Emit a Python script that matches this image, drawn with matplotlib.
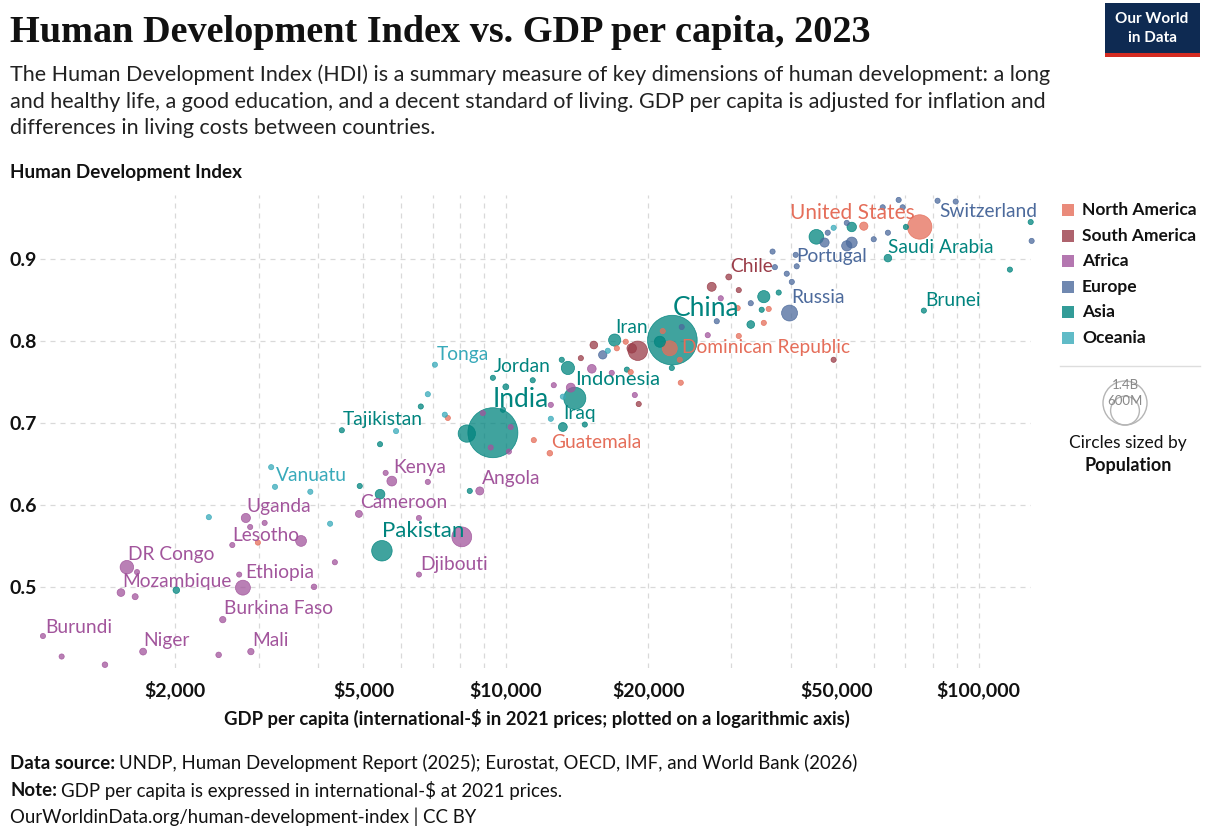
import matplotlib
matplotlib.use('Agg')
import matplotlib.pyplot as plt
from matplotlib.patches import Rectangle, Ellipse
from matplotlib.ticker import FixedLocator, NullFormatter
import numpy as np

W, H = 1205, 838

# ---- values (GDP per capita, HDI, population in millions) ----
africa_gdp = [1050, 1150, 1420, 1710, 2470, 2890, 2520, 1535, 1645, 1580,
              1660, 2780, 2730, 3930, 2820, 3090, 2880, 2640, 3690, 4350,
              4890, 5570, 5740, 6840, 6550, 8810, 6550, 8070, 8940, 10240,
              9290, 10150, 12450, 12630, 13720, 15200, 16750, 18740, 26730, 28480]
africa_hdi = [0.440, 0.415, 0.405, 0.421, 0.417, 0.421, 0.460, 0.493, 0.488, 0.524,
              0.518, 0.499, 0.515, 0.500, 0.584, 0.578, 0.573, 0.551, 0.556, 0.530,
              0.589, 0.639, 0.629, 0.628, 0.584, 0.617, 0.515, 0.561, 0.712, 0.695,
              0.670, 0.665, 0.722, 0.746, 0.743, 0.766, 0.761, 0.734, 0.807, 0.852]
africa_pop = [13, 6, 18, 27, 18, 23, 23, 34, 21, 105,
              8, 127, 8, 18, 48, 14, 3, 2.3, 67, 10,
              28, 6, 55, 10, 8, 37, 1.1, 225, 4, 4,
              5, 5, 5, 5, 46, 43, 5, 8, 3, 0.1]
africa_names = ['Burundi', '', '', 'Niger', '', 'Mali', 'Burkina Faso', 'Mozambique', '', 'DR Congo',
                '', 'Ethiopia', '', '', 'Uganda', '', '', 'Lesotho', '', '',
                'Cameroon', '', 'Kenya', '', '', 'Angola', 'Djibouti', '', '', '',
                '', '', '', '', '', '', '', '', '', '']

asia_gdp = [2010, 4500, 4910, 5420, 5420, 5470, 6610, 8390, 8270, 9390,
            9860, 9390, 10000, 11400, 13990, 13200, 14690, 13130, 13530, 18030,
            16990, 22500, 21170, 22440, 34760, 35120, 37760, 32960, 45370, 53890,
            70150, 64270, 76560, 116400, 128800]
asia_hdi = [0.496, 0.691, 0.623, 0.674, 0.613, 0.544, 0.720, 0.617, 0.687, 0.688,
            0.716, 0.755, 0.744, 0.752, 0.730, 0.695, 0.698, 0.777, 0.767, 0.765,
            0.801, 0.801, 0.799, 0.767, 0.838, 0.854, 0.859, 0.820, 0.927, 0.939,
            0.939, 0.901, 0.837, 0.887, 0.945]
asia_pop = [25, 10, 6, 8, 54, 240, 7, 8, 172, 1430,
            7, 11, 20, 6, 280, 45, 5, 6, 100, 6,
            85, 1410, 70, 8, 6, 85, 5, 34, 124, 52,
            10, 33, 0.45, 3, 6]
asia_names = ['', 'Tajikistan', '', '', '', 'Pakistan', '', '', '', 'India',
              '', 'Jordan', '', '', 'Indonesia', 'Iraq', '', '', '', '',
              'Iran', 'China', '', '', '', '', '', '', '', '',
              '', 'Saudi Arabia', 'Brunei', '', '']

europe_gdp = [16030, 23550, 27930, 32960, 39810, 37070, 39270, 40250, 41220, 36650,
              41020, 47940, 47210, 52600, 53890, 52600, 59980, 64270, 62660, 67720,
              69050, 81850, 89400, 129400]
europe_hdi = [0.783, 0.817, 0.824, 0.846, 0.834, 0.890, 0.882, 0.872, 0.891, 0.909,
              0.905, 0.932, 0.920, 0.916, 0.920, 0.944, 0.924, 0.932, 0.963, 0.972,
              0.963, 0.971, 0.970, 0.922]
europe_pop = [40, 4, 6, 5, 145, 5, 5, 4, 10, 5,
              5, 6, 48, 60, 68, 6, 5, 5, 10, 5,
              6, 9, 5, 0.7]
europe_names = ['', '', '', '', 'Russia', '', '', '', 'Portugal', '',
                '', '', '', '', '', '', '', '', '', '',
                '', 'Switzerland', '', '']

samerica_gdp = [14410, 15350, 18460, 19010, 19100, 27250, 31090, 29610, 49340]
samerica_hdi = [0.779, 0.795, 0.791, 0.788, 0.723, 0.866, 0.862, 0.878, 0.777]
samerica_pop = [7, 34, 52, 215, 7, 46, 3.4, 20, 0.8]
samerica_names = ['', '', '', '', '', '', '', 'Chile', '']

namerica_gdp = [2990, 7540, 11460, 12390, 17930, 17170, 18370, 21470, 22220, 23330,
                23440, 31090, 35120, 30930, 35970, 57150, 75030]
namerica_hdi = [0.554, 0.706, 0.679, 0.663, 0.799, 0.791, 0.762, 0.812, 0.791, 0.777,
                0.749, 0.806, 0.822, 0.840, 0.839, 0.940, 0.939]
namerica_pop = [11, 3, 10, 18, 5, 3, 6, 3, 128, 11,
                5, 4, 4, 4, 3, 39, 340]
namerica_names = ['', '', '', 'Guatemala', '', '', '', '', '', 'Dominican Republic',
                  '', '', '', '', '', '', 'United States']

oceania_gdp = [2355, 3190, 3250, 3860, 4250, 5860, 7080, 6840, 7430, 12450, 13200, 16430, 49340]
oceania_hdi = [0.585, 0.646, 0.622, 0.616, 0.577, 0.690, 0.771, 0.735, 0.710, 0.705, 0.732, 0.788, 0.938]
oceania_pop = [5, 3, 0.3, 1, 10, 1, 0.1, 0.2, 0.9, 0.9, 0.2, 0.9, 5]
oceania_names = ['', '', 'Vanuatu', '', '', '', 'Tonga', '', '', '', '', '', '']

regions = ['North America', 'South America', 'Africa', 'Europe', 'Asia', 'Oceania']
x_ticks = [2000, 5000, 10000, 20000, 50000, 100000]
x_tick_labels = ['$2,000', '$5,000', '$10,000', '$20,000', '$50,000', '$100,000']
y_ticks = [0.5, 0.6, 0.7, 0.8, 0.9]

# ---- styling ----
region_colors = {
    'North America': '#E56E5A',
    'South America': '#9A3C48',
    'Africa': '#A2559C',
    'Europe': '#4C6A9C',
    'Asia': '#00847E',
    'Oceania': '#38AABA',
}
LS = 13.8  # normal label size
# label offset from its point in pixels (dx, dy), alignment, font size
label_style = {
    'Burundi': (2, -9, 'left', LS), 'Niger': (0, -11, 'left', LS),
    'Mali': (1, -11, 'left', LS), 'Burkina Faso': (1, -11, 'left', LS),
    'Mozambique': (1, -11, 'left', LS), 'DR Congo': (1, -13, 'left', LS),
    'Ethiopia': (2, -15, 'left', LS), 'Lesotho': (0, -10, 'left', LS),
    'Uganda': (1, -11, 'left', LS), 'Vanuatu': (1, -11, 'left', LS),
    'Kenya': (1, -14, 'left', LS), 'Cameroon': (1, -11, 'left', LS),
    'Angola': (2, -12, 'left', LS), 'Pakistan': (0, -20, 'left', 16),
    'Djibouti': (1, -10, 'left', LS), 'Tajikistan': (1, -11, 'left', LS),
    'Tonga': (2, -10, 'left', LS), 'Jordan': (1, -11, 'left', LS),
    'India': (0, -33, 'left', 19), 'Iraq': (0, -13, 'left', LS),
    'Guatemala': (1, -11, 'left', LS), 'Indonesia': (0, -19, 'left', 14.5),
    'Iran': (1, -13, 'left', LS), 'China': (0, -32, 'left', 19),
    'Dominican Republic': (2, -12, 'left', LS), 'Chile': (1, -10, 'left', LS),
    'Russia': (2, -16, 'left', LS), 'Portugal': (0, -10, 'left', LS),
    'United States': (-5, -14, 'right', 15), 'Switzerland': (2, 11, 'left', LS),
    'Saudi Arabia': (0, -11, 'left', LS), 'Brunei': (1, -10, 'left', LS),
}

plt.rcParams['font.family'] = ['Lato', 'DejaVu Sans']

fig = plt.figure(figsize=(W / 100, H / 100), dpi=100)
fig.patch.set_facecolor('white')


def fx(px):
    return px / W


def fy(py):
    return 1 - py / H


ax = fig.add_axes([fx(40), fy(668), fx(1031) - fx(40), fy(195) - fy(668)])
ax.set_xscale('log')
ax.set_xlim(1035, 129000)
ax.set_ylim(0.401, 0.978)
for s in ax.spines.values():
    s.set_visible(False)

ax.xaxis.set_major_locator(FixedLocator(x_ticks))
ax.set_xticklabels(x_tick_labels)
minor = [m * 10 ** e for e in (3, 4) for m in range(1, 10)] + [100000]
ax.xaxis.set_minor_locator(FixedLocator(minor))
ax.xaxis.set_minor_formatter(NullFormatter())
ax.set_yticks(y_ticks)
ax.set_yticklabels(['%.1f' % v for v in y_ticks])
ax.tick_params(axis='both', which='both', length=0)
ax.tick_params(axis='x', pad=9, labelsize=14)
ax.tick_params(axis='y', pad=2, labelsize=14)
for lab in ax.get_xticklabels() + ax.get_yticklabels():
    lab.set_fontweight('bold')
    lab.set_color('#111111')
ax.grid(True, which='both', axis='x', linestyle=(0, (4, 4)), color='#d9d9d9', lw=0.9)
ax.grid(True, which='major', axis='y', linestyle=(0, (4, 4)), color='#d9d9d9', lw=0.9)
ax.set_axisbelow(True)

# gather all points
all_gdp, all_hdi, all_pop, all_reg, all_name = [], [], [], [], []
series = [
    ('North America', namerica_gdp, namerica_hdi, namerica_pop, namerica_names),
    ('South America', samerica_gdp, samerica_hdi, samerica_pop, samerica_names),
    ('Africa', africa_gdp, africa_hdi, africa_pop, africa_names),
    ('Europe', europe_gdp, europe_hdi, europe_pop, europe_names),
    ('Asia', asia_gdp, asia_hdi, asia_pop, asia_names),
    ('Oceania', oceania_gdp, oceania_hdi, oceania_pop, oceania_names),
]
for reg, g, h, p, n in series:
    all_gdp += g
    all_hdi += h
    all_pop += p
    all_reg += [reg] * len(g)
    all_name += n

all_gdp = np.array(all_gdp, dtype=float)
all_hdi = np.array(all_hdi, dtype=float)
all_pop = np.array(all_pop, dtype=float)

# radius in pixels proportional to sqrt(population)
radius = np.maximum(2.6, 25 * np.sqrt(all_pop / 1430))
sizes = (2 * radius * 0.72) ** 2
order = np.argsort(-all_pop)

face = [matplotlib.colors.to_rgba(region_colors[all_reg[i]], 0.75) for i in order]
edge = [matplotlib.colors.to_rgba(region_colors[all_reg[i]], 0.9) for i in order]
ax.scatter(all_gdp[order], all_hdi[order], s=sizes[order], c=face,
           edgecolors=edge, linewidths=0.5, zorder=3, clip_on=False)

for i, name in enumerate(all_name):
    if not name:
        continue
    dx, dy, ha, fs = label_style[name]
    ax.annotate(name, (all_gdp[i], all_hdi[i]), xytext=(dx * 0.72, -dy * 0.72),
                textcoords='offset points', ha=ha, va='center', fontsize=fs,
                color=region_colors[all_reg[i]], zorder=4, annotation_clip=False)

# ---- header ----
fig.text(fx(10), fy(33), 'Human Development Index vs. GDP per capita, 2023',
         family=['Liberation Serif', 'DejaVu Serif'], fontweight='bold',
         fontsize=27.5, color='#111111', va='center')
subtitle = ['The Human Development Index (HDI) is a summary measure of key dimensions of human development: a long',
            'and healthy life, a good education, and a decent standard of living. GDP per capita is adjusted for inflation and',
            'differences in living costs between countries.']
for k, line in enumerate(subtitle):
    fig.text(fx(10), fy(75 + 26.5 * k), line, fontsize=15.5, color='#222222', va='center')
fig.text(fx(10), fy(172), 'Human Development Index', fontsize=13.6, fontweight='bold',
         color='#111111', va='center')

# logo
fig.patches.append(Rectangle((fx(1105), fy(53)), fx(95), 50 / H, transform=fig.transFigure,
                             facecolor='#0e2a52', edgecolor='none'))
fig.patches.append(Rectangle((fx(1105), fy(57)), fx(95), 4 / H, transform=fig.transFigure,
                             facecolor='#d42b21', edgecolor='none'))
fig.text(fx(1152), fy(19), 'Our World', fontsize=11, color='white', ha='center', va='center',
         fontweight='bold')
fig.text(fx(1152), fy(38), 'in Data', fontsize=11, color='white', ha='center', va='center',
         fontweight='bold')

# ---- x axis title ----
fig.text(fx(537), fy(718), 'GDP per capita (international-$ in 2021 prices; plotted on a logarithmic axis)',
         fontsize=13.3, fontweight='bold', color='#111111', ha='center', va='center')

# ---- colour legend ----
for k, reg in enumerate(regions):
    yy = 210 + 25.6 * k
    fig.patches.append(Rectangle((fx(1062), fy(yy + 6)), fx(12), 12 / H, transform=fig.transFigure,
                                 facecolor=region_colors[reg], alpha=0.8, edgecolor='none'))
    fig.text(fx(1082), fy(yy), reg, fontsize=12.5, fontweight='bold', color='#111111', va='center')

fig.lines.append(plt.Line2D([fx(1060), fx(1200)], [fy(366), fy(366)], transform=fig.transFigure,
                            color='#dddddd', lw=1))

# size legend
r_big, r_small = 22, 22 * np.sqrt(600 / 1400)
for r in (r_big, r_small):
    fig.patches.append(Ellipse((fx(1125), fy(425 - r)), 2 * r / W, 2 * r / H,
                               transform=fig.transFigure, facecolor='none',
                               edgecolor='#b5b5b5', lw=1))
fig.text(fx(1125), fy(385), '1.4B', fontsize=9.5, color='#888888', ha='center', va='center')
fig.text(fx(1125), fy(401), '600M', fontsize=9.5, color='#888888', ha='center', va='center')
fig.text(fx(1128), fy(443), 'Circles sized by', fontsize=12.5, color='#111111', ha='center', va='center')
fig.text(fx(1128), fy(465), 'Population', fontsize=13, fontweight='bold', color='#111111',
         ha='center', va='center')

# ---- footer ----
renderer = fig.canvas.get_renderer()


def footer_line(py, bold, rest):
    x0 = fx(10)
    if bold:
        t = fig.text(x0, fy(py), bold, fontsize=13.4, fontweight='bold', color='#111111', va='center')
        bb = t.get_window_extent(renderer=renderer)
        x0 = bb.x1 / W + 4 / W
    fig.text(x0, fy(py), rest, fontsize=13.4, color='#111111', va='center')


footer_line(763, 'Data source:', 'UNDP, Human Development Report (2025); Eurostat, OECD, IMF, and World Bank (2026)')
footer_line(790, 'Note:', 'GDP per capita is expressed in international-$ at 2021 prices.')
footer_line(817, '', 'OurWorldinData.org/human-development-index | CC BY')

fig.savefig('out.png', dpi=100)
